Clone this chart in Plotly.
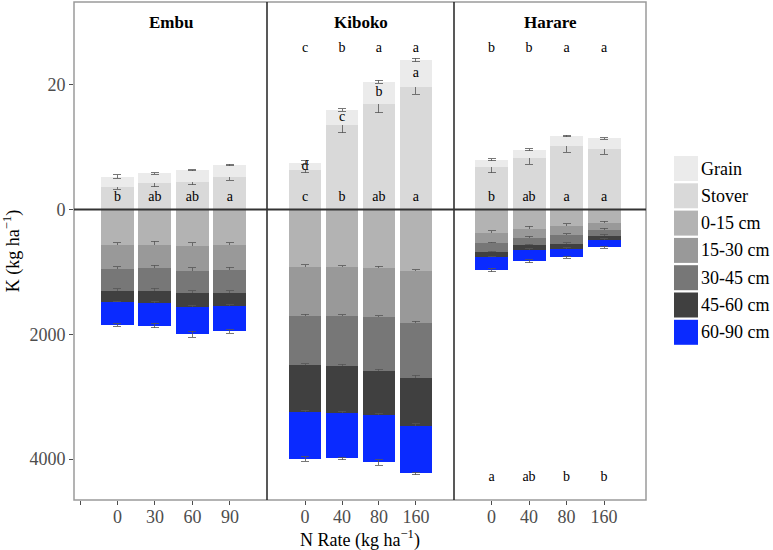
import plotly.graph_objects as go

# ---------------- data ----------------
sites = ["Embu", "Kiboko", "Harare"]
n_rates = {"Embu": ["0", "30", "60", "90"],
           "Kiboko": ["0", "40", "80", "160"],
           "Harare": ["0", "40", "80", "160"]}

# above-ground K (kg/ha)
stover = {"Embu": [3.6, 4.2, 4.5, 5.2],
          "Kiboko": [6.3, 13.6, 17.0, 19.6],
          "Harare": [6.9, 8.3, 10.2, 9.7]}
stover_err = {"Embu": [0.35, 0.5, 0.5, 0.5],
              "Kiboko": [0.4, 1.3, 1.5, 1.1],
              "Harare": [1.0, 1.0, 1.0, 0.8]}
grain = {"Embu": [1.7, 1.6, 1.8, 1.95],
         "Kiboko": [1.2, 2.4, 3.5, 4.4],
         "Harare": [1.1, 1.3, 1.6, 1.7]}
grain_err = {"Embu": [0.3, 0.1, 0.1, 0.15],
             "Kiboko": [0.3, 0.2, 0.27, 0.3],
             "Harare": [0.15, 0.15, 0.15, 0.15]}

# soil K by depth (kg/ha)
layers = ["0-15 cm", "15-30 cm", "30-45 cm", "45-60 cm", "60-90 cm"]
soil = {
    "Embu": {"0-15 cm": [573, 573, 589, 573],
             "15-30 cm": [380, 358, 391, 391],
             "30-45 cm": [348, 381, 364, 369],
             "45-60 cm": [182, 182, 214, 214],
             "60-90 cm": [364, 364, 439, 401]},
    "Kiboko": {"0-15 cm": [915, 926, 942, 990],
               "15-30 cm": [787, 776, 787, 825],
               "30-45 cm": [792, 803, 852, 878],
               "45-60 cm": [750, 760, 711, 771],
               "60-90 cm": [755, 723, 760, 765]},
    "Harare": {"0-15 cm": [375, 305, 268, 214],
               "15-30 cm": [166, 145, 145, 107],
               "30-45 cm": [144, 123, 138, 97],
               "45-60 cm": [75, 69, 75, 64],
               "60-90 cm": [209, 188, 140, 123]},
}
soil_err = {
    "Embu": {"0-15 cm": [40, 65, 60, 45],
             "15-30 cm": [35, 40, 45, 40],
             "30-45 cm": [35, 50, 45, 30],
             "45-60 cm": [15, 25, 25, 20],
             "60-90 cm": [25, 35, 50, 30]},
    "Kiboko": {"0-15 cm": [30, 25, 35, 30],
               "15-30 cm": [25, 20, 25, 25],
               "30-45 cm": [25, 30, 25, 35],
               "45-60 cm": [25, 35, 30, 30],
               "60-90 cm": [35, 20, 45, 20]},
    "Harare": {"0-15 cm": [40, 35, 40, 30],
               "15-30 cm": [20, 20, 25, 20],
               "30-45 cm": [20, 20, 20, 20],
               "45-60 cm": [15, 15, 15, 15],
               "60-90 cm": [25, 25, 15, 15]},
}

# significance letters
total_letters = {"Embu": ["", "", "", ""],
                 "Kiboko": ["c", "b", "a", "a"],
                 "Harare": ["b", "b", "a", "a"]}
grain_letters = {"Embu": ["", "", "", ""],
                 "Kiboko": ["d", "c", "b", "a"],
                 "Harare": ["", "", "", ""]}
stover_letters = {"Embu": ["b", "ab", "ab", "a"],
                  "Kiboko": ["c", "b", "ab", "a"],
                  "Harare": ["b", "ab", "a", "a"]}
soil_letters = {"Embu": ["", "", "", ""],
                "Kiboko": ["", "", "", ""],
                "Harare": ["a", "ab", "b", "b"]}

colors = {"Grain": "#ebebeb", "Stover": "#d9d9d9",
          "0-15 cm": "#b3b3b3", "15-30 cm": "#999999",
          "30-45 cm": "#777777", "45-60 cm": "#404040",
          "60-90 cm": "#0a2aff"}

# above-ground values are drawn at 100x (kg/ha) so they share the axis with soil K
AG = 100.0
SERIF = "Liberation Serif"

fig = go.Figure()
pos = [1, 2, 3, 4]
axes = ["x", "x2", "x3"]
err_style = dict(type="data", color="#555555", thickness=0.8, width=4)
txt_font = dict(family=SERIF, size=14, color="black")


def add_letters(yvals, letters, ax):
    if not any(letters):
        return
    fig.add_trace(go.Scatter(x=pos, y=yvals, mode="text", text=letters,
                             textfont=txt_font, xaxis=ax, yaxis="y",
                             showlegend=False, hoverinfo="skip"))


for s, ax in zip(sites, axes):
    fig.add_trace(go.Bar(x=pos, y=[v * AG for v in stover[s]], xaxis=ax, yaxis="y",
                         marker=dict(color=colors["Stover"], line=dict(width=0)), width=0.88,
                         error_y=dict(array=[e * AG for e in stover_err[s]], **err_style),
                         showlegend=False, hoverinfo="skip"))
    fig.add_trace(go.Bar(x=pos, y=[v * AG for v in grain[s]], xaxis=ax, yaxis="y",
                         marker=dict(color=colors["Grain"], line=dict(width=0)), width=0.88,
                         error_y=dict(array=[e * AG for e in grain_err[s]], **err_style),
                         showlegend=False, hoverinfo="skip"))
    for L in layers:
        fig.add_trace(go.Bar(x=pos, y=[-v for v in soil[s][L]], xaxis=ax, yaxis="y",
                             marker=dict(color=colors[L], line=dict(width=0)), width=0.88,
                             error_y=dict(array=soil_err[s][L], **err_style),
                             showlegend=False, hoverinfo="skip"))
    add_letters([25.8 * AG] * 4, total_letters[s], ax)
    add_letters([1.9 * AG] * 4, stover_letters[s], ax)
    add_letters([(a + b / 2) * AG for a, b in zip(stover[s], grain[s])], grain_letters[s], ax)
    add_letters([-4300] * 4, soil_letters[s], ax)

W, H = 773, 550
ml, mr, mt, mb = 74, 127, 2, 50
pw = W - ml - mr
ph = H - mt - mb
d1 = (267 - ml) / pw
d2 = (454 - ml) / pw

tick_font = dict(family=SERIF, size=18, color="#4d4d4d")
xcommon = dict(showgrid=False, zeroline=False, showline=False, ticks="outside",
               ticklen=4, tickcolor="#4d4d4d", tickfont=tick_font, anchor="y",
               fixedrange=True, ticklabelstandoff=-4)

fig.update_layout(
    width=W, height=H,
    margin=dict(l=ml, r=mr, t=mt, b=mb),
    plot_bgcolor="white", paper_bgcolor="white",
    barmode="relative", bargap=0,
    xaxis=dict(domain=[0, d1], range=[-0.16, 4.99], tickvals=[0, 1, 2, 3, 4],
               ticktext=[""] + n_rates["Embu"], **xcommon),
    xaxis2=dict(domain=[d1, d2], range=[-0.03, 5.03], tickvals=pos,
                ticktext=n_rates["Kiboko"], **xcommon),
    xaxis3=dict(domain=[d2, 1], range=[0, 5.12], tickvals=pos,
                ticktext=n_rates["Harare"], **xcommon),
    yaxis=dict(range=[-4655, 3328], tickvals=[2000, 0, -2000, -4000],
               ticktext=["20", "0", "2000", "4000"], showgrid=False, zeroline=False,
               showline=False, ticks="outside", ticklen=4, tickcolor="#4d4d4d",
               tickfont=tick_font, fixedrange=True,
               title=dict(text="K (kg ha<sup>−1</sup>)",
                          font=dict(family=SERIF, size=18, color="black"), standoff=6)),
    font=dict(family=SERIF),
)

shapes = []
# outer frame
shapes.append(dict(type="rect", xref="paper", yref="paper", x0=0, x1=1, y0=0, y1=1,
                   line=dict(color="#9a9a9a", width=1.5), layer="above"))
# facet dividers
for d in (d1, d2):
    shapes.append(dict(type="line", xref="paper", yref="paper", x0=d, x1=d, y0=0, y1=1,
                       line=dict(color="#222222", width=1.5), layer="above"))
# zero line
shapes.append(dict(type="line", xref="paper", yref="y", x0=0, x1=1, y0=0, y1=0,
                   line=dict(color="#333333", width=2), layer="above"))

ann = []
# x-axis title
ann.append(dict(text="N Rate (kg ha<sup>−1</sup>)", xref="paper", yref="paper", x=0.5,
                y=-(539 - (mt + ph)) / ph, xanchor="center", yanchor="middle", showarrow=False,
                font=dict(family=SERIF, size=18, color="black")))

# legend (manual)
leg_items = ["Grain", "Stover"] + layers
leg_x0 = (674 - ml) / pw
leg_x1 = (698 - ml) / pw
for i, name in enumerate(leg_items):
    ytop = 156 + i * 27.3
    y0 = 1 - (ytop + 25 - mt) / ph
    y1 = 1 - (ytop - mt) / ph
    shapes.append(dict(type="rect", xref="paper", yref="paper", x0=leg_x0, x1=leg_x1,
                       y0=y0, y1=y1, fillcolor=colors[name], line=dict(width=0)))
    ann.append(dict(text=name, xref="paper", yref="paper", x=leg_x1 + 1 / pw, y=(y0 + y1) / 2,
                    xanchor="left", yanchor="middle", showarrow=False,
                    font=dict(family=SERIF, size=18, color="black")))

# facet titles
for s, (a, b) in zip(sites, [(0, d1), (d1, d2), (d2, 1)]):
    ann.append(dict(text="<b>" + s + "</b>", xref="paper", yref="paper", x=(a + b) / 2,
                    y=1 - (23 - mt) / ph, xanchor="center", yanchor="middle",
                    showarrow=False, font=dict(family=SERIF, size=17, color="black")))

fig.update_layout(shapes=shapes, annotations=ann)
fig.write_html("out.html", config={"displayModeBar": False},
               post_script="document.body.style.margin='0px';")
